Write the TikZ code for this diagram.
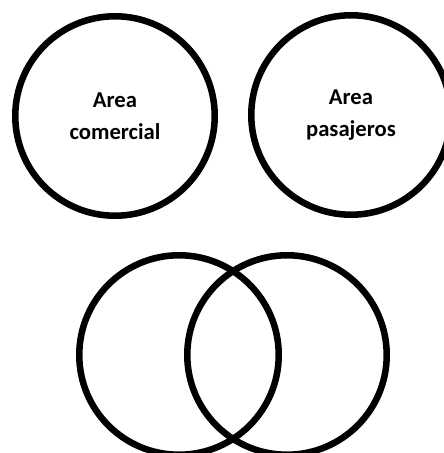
\documentclass[tikz,border=0pt]{standalone}
\usepackage{fontspec}
\setmainfont{Carlito}
\begin{document}
\begin{tikzpicture}[
  x=0.75pt, y=-0.75pt,
  area/.style={circle, draw, line width=4.9pt, minimum size=149.6pt, inner sep=0pt, align=center, font=\bfseries\fontsize{17}{24}\selectfont}
]
  \useasboundingbox (0,0) rectangle (443,453);
  \node[area] (comercial) at (115, 116) {Area\\comercial};
  \node[area] (pasajeros) at (351, 115) {Area\\pasajeros};
  \node[area] (vennleft) at (179, 355) {};
  \node[area] (vennright) at (287, 355) {};
\end{tikzpicture}
\end{document}
